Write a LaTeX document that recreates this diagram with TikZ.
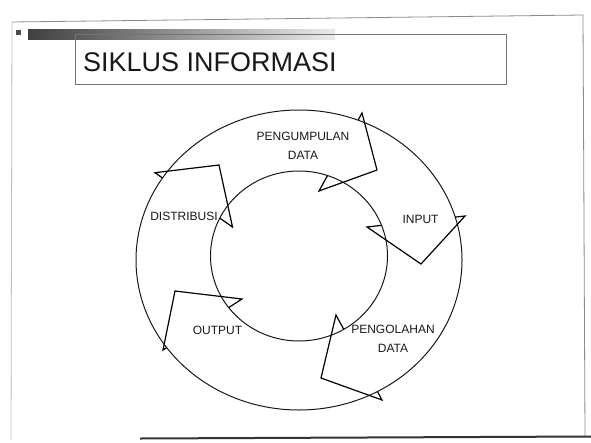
\documentclass[tikz,border=0pt]{standalone}
\usepackage{fontspec}
\setmainfont{Liberation Sans}
\usetikzlibrary{intersections}
\newcommand\cyclehead[4]{%
  \coordinate (#1ob) at #2;
  \coordinate (#1t) at #3;
  \coordinate (#1ib) at #4;
  \path[name path=#1base] (#1ob) -- (#1ib);
  \path[name intersections={of=#1base and outer, by=#1on}];
  \path[name intersections={of=#1base and inner, by=#1in}];
  \draw[headline] (#1on) -- (#1ob) -- (#1t) -- (#1ib) -- (#1in);
}
\begin{document}
\begin{tikzpicture}[x=1pt,y=-1pt,
  ring/.style={draw=black!90, line width=1pt},
  headline/.style={draw=black, line width=1.2pt, line join=miter},
  lbl/.style={font=\fontsize{12}{19}\selectfont, align=center, text=black!90, inner sep=0pt}]
\useasboundingbox (0,0) rectangle (591,442);
\fill[white] (0,0) rectangle (591,442);
% slide frame
\draw[black!45, line width=0.8pt] (12,22) -- (583,15) -- (585,436);
\draw[black!25, line width=0.8pt] (12,22) -- (11,440);
\draw[black!80, line width=2pt] (140,438.5) -- (591,436.5);
% top bar and bullet
\shade[left color=black!75, right color=black!8] (28,29) rectangle (335,39);
\fill[black!70] (16,30) rectangle (21,35);
% title box
\draw[black!55, line width=0.7pt] (75,34) rectangle (506,84);
\node[anchor=west, font=\fontsize{27}{29}\selectfont, text=black!90, inner sep=0pt] (title) at (83,62) {SIKLUS INFORMASI};
% rings
\draw[ring, name path=outer] (299,260) ellipse [x radius=163pt, y radius=150pt];
\draw[ring, name path=inner] (299,256) ellipse [x radius=88.5pt, y radius=85pt];
% arrow heads
\cyclehead{a}{(362,113)}{(377,170)}{(319,191)}
\cyclehead{b}{(465,216)}{(421,264)}{(367,227)}
\cyclehead{c}{(382,400)}{(321,378)}{(336,315)}
\cyclehead{d}{(163,350)}{(175,291)}{(242,299)}
\cyclehead{e}{(155,172.7)}{(219,165)}{(232.5,227)}
% labels
\node[lbl] (l1) at (303,146) {PENGUMPULAN\\DATA};
\node[lbl] (l2) at (184,216.5) {DISTRIBUSI};
\node[lbl] (l3) at (420.5,219.5) {INPUT};
\node[lbl] (l4) at (217.5,330) {OUTPUT};
\node[lbl] (l5) at (393,339) {PENGOLAHAN\\DATA};
\end{tikzpicture}
\end{document}
